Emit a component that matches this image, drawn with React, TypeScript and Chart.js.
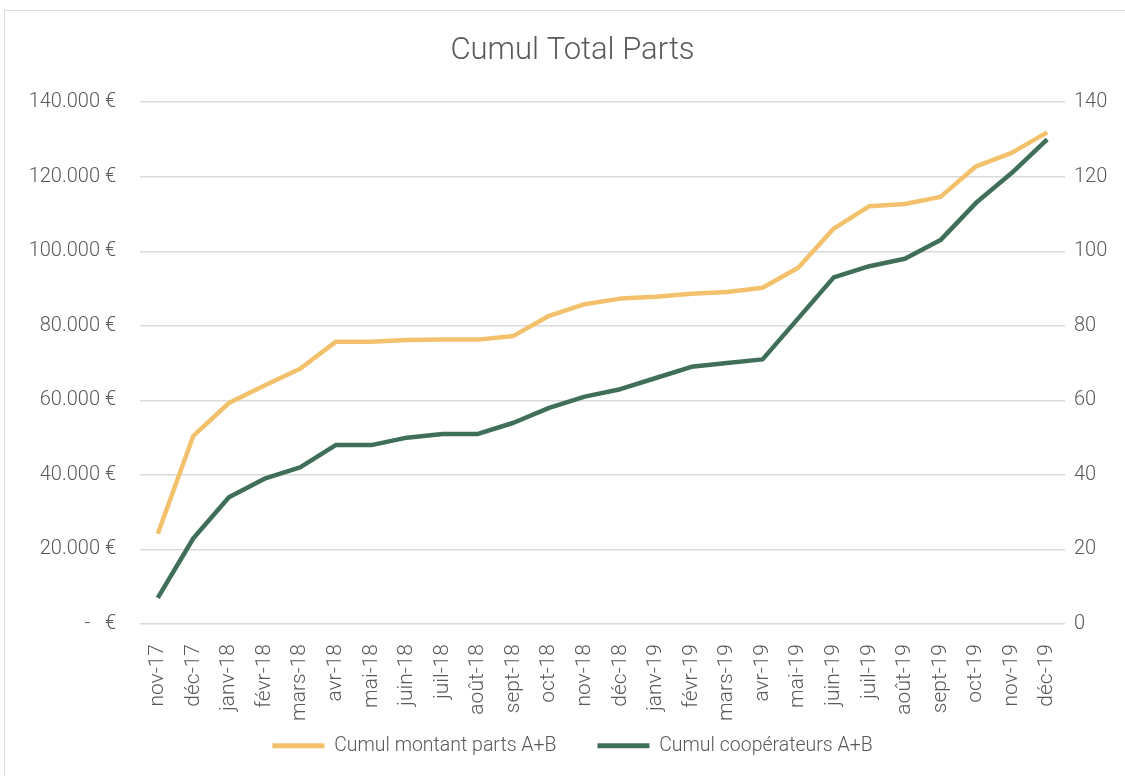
import React, { useEffect, useRef } from "react";
import { Chart, registerables } from "chart.js";

Chart.register(...registerables);

const categories = [
  "nov-17", "déc-17", "janv-18", "févr-18", "mars-18", "avr-18", "mai-18", "juin-18",
  "juil-18", "août-18", "sept-18", "oct-18", "nov-18", "déc-18", "janv-19", "févr-19",
  "mars-19", "avr-19", "mai-19", "juin-19", "juil-19", "août-19", "sept-19", "oct-19",
  "nov-19", "déc-19",
];

const montantParts = [
  24200, 50500, 59300, 64000, 68500, 75700, 75700, 76200, 76300, 76300, 77300, 82700,
  85800, 87300, 87800, 88600, 89100, 90200, 95600, 106100, 112100, 112700, 114600,
  122800, 126400, 131900,
];

const cooperateurs = [
  7, 23, 34, 39, 42, 48, 48, 50, 51, 51, 54, 58, 61, 63, 66, 69, 70, 71, 82, 93, 96, 98,
  103, 113, 121, 130,
];

const seriesLabels = ["Cumul montant parts A+B", "Cumul coopérateurs A+B"];
const chartTitle = "Cumul Total Parts";
const leftTicks = [0, 20000, 40000, 60000, 80000, 100000, 120000, 140000];
const rightTicks = [0, 20, 40, 60, 80, 100, 120, 140];

const FONT = "Roboto, 'Liberation Sans', sans-serif";
const TEXT = "#595959";
const GRID = "#d9d9d9";
const ORANGE = "#f3c16b";
const GREEN = "#3f6f59";
const LEGEND_PAD = 41;

function formatEuro(v: number): string {
  if (v === 0) return "-   €";
  const t = Math.round(v / 1000);
  return `${t}.000 €`;
}

// Lets the legend keep a wide horizontal gap between items while taking little height.
const legendPlacement = {
  id: "legendPlacement",
  beforeLayout(chart: any) {
    const lg = chart.legend;
    if (lg && !lg.__patched) {
      const orig = lg.fit.bind(lg);
      lg.fit = function () {
        orig();
        this.height = 30;
      };
      lg.__patched = true;
    }
  },
  afterLayout(chart: any) {
    const lg = chart.legend;
    if (lg) {
      lg.top -= LEGEND_PAD;
      lg.height = lg.bottom - lg.top;
    }
  },
};

export default function App() {
  const ref = useRef<HTMLCanvasElement | null>(null);

  useEffect(() => {
    if (!ref.current) return;
    const chart = new Chart(ref.current, {
      type: "line",
      data: {
        labels: categories,
        datasets: [
          {
            label: seriesLabels[0],
            data: montantParts,
            borderColor: ORANGE,
            backgroundColor: ORANGE,
            borderWidth: 4.5,
            pointRadius: 0,
            tension: 0,
            borderJoinStyle: "round",
            yAxisID: "y",
          },
          {
            label: seriesLabels[1],
            data: cooperateurs,
            borderColor: GREEN,
            backgroundColor: GREEN,
            borderWidth: 4.5,
            pointRadius: 0,
            tension: 0,
            borderJoinStyle: "round",
            yAxisID: "y1",
          },
        ],
      },
      plugins: [legendPlacement],
      options: {
        responsive: false,
        animation: false,
        layout: { padding: { left: 20, right: 0, top: 0, bottom: 10 } },
        plugins: {
          title: {
            display: true,
            text: chartTitle,
            color: TEXT,
            font: { family: FONT, size: 31, weight: "300" },
            padding: { top: 33, bottom: 32 },
          },
          legend: {
            position: "bottom",
            labels: {
              color: TEXT,
              font: { family: FONT, size: 19.5, weight: "300" },
              boxWidth: 52,
              boxHeight: 5,
              padding: LEGEND_PAD,
              generateLabels: (c: any) =>
                Chart.defaults.plugins.legend.labels
                  .generateLabels(c)
                  .map((l: any) => ({ ...l, lineWidth: 0 })),
            },
          },
          tooltip: { enabled: false },
        },
        scales: {
          x: {
            grid: { display: false },
            border: { display: false },
            offset: true,
            ticks: {
              color: TEXT,
              font: { family: FONT, size: 21, weight: "300" },
              minRotation: 90,
              maxRotation: 90,
              autoSkip: false,
              padding: 12,
            },
            afterFit: (s: any) => {
              s.height = 112;
            },
          },
          y: {
            position: "left",
            min: 0,
            max: 140000,
            afterBuildTicks: (s: any) => {
              s.ticks = leftTicks.map((v) => ({ value: v }));
            },
            grid: { color: GRID, lineWidth: 1.5, drawTicks: false },
            border: { display: false },
            ticks: {
              color: TEXT,
              font: { family: FONT, size: 20, weight: "300" },
              padding: 24,
              callback: (v: any) => formatEuro(Number(v)),
            },
            afterFit: (s: any) => {
              s.width = 120;
            },
          },
          y1: {
            position: "right",
            min: 0,
            max: 140,
            afterBuildTicks: (s: any) => {
              s.ticks = rightTicks.map((v) => ({ value: v }));
            },
            grid: { display: false, drawTicks: false },
            border: { display: false },
            ticks: {
              color: TEXT,
              font: { family: FONT, size: 20, weight: "300" },
              padding: 9,
            },
            afterFit: (s: any) => {
              s.width = 60;
            },
          },
        },
      },
    });
    return () => chart.destroy();
  }, []);

  return (
    <div style={{ position: "absolute", left: 0, top: 0, width: 1125, height: 776, background: "#fff", overflow: "hidden" }}>
      <div
        style={{
          position: "absolute",
          left: 4,
          top: 10,
          width: 1140,
          height: 790,
          border: "1px solid #d9d9d9",
          boxSizing: "border-box",
        }}
      />
      <canvas ref={ref} width={1125} height={776} style={{ position: "absolute", left: 0, top: 0 }} />
    </div>
  );
}
